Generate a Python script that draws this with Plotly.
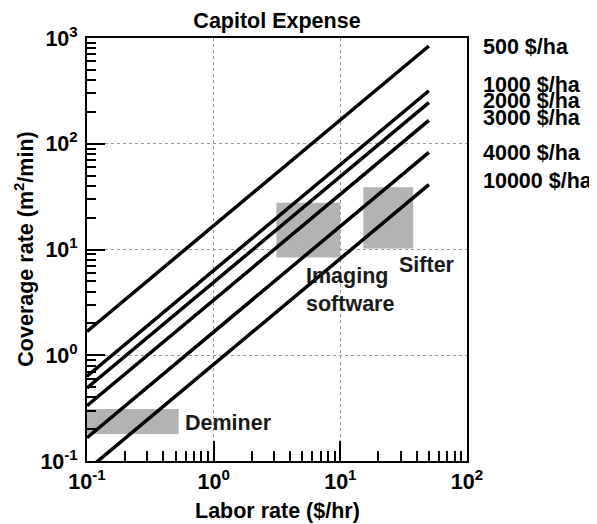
import plotly.graph_objects as go
import math

# ---- data ----
cost_labels = ["500 $/ha", "1000 $/ha", "2000 $/ha", "3000 $/ha", "4000 $/ha", "10000 $/ha"]
# coverage rate (m2/min) per unit labor rate ($/hr)  -> y = k * x
slope_k = [16.8, 6.34, 4.9, 3.33, 1.66, 0.82]
labor_range = [0.1, 50]
label_y = [822, 360, 255, 176, 82, 44]

box_names = ["Deminer", "Imaging<br>software", "Sifter"]
box_x = [[0.1, 0.53], [3.13, 10.0], [15.2, 37.6]]
box_y = [[0.18, 0.31], [8.4, 27.7], [10.2, 38.7]]
box_text_x = [0.57, 5.2, 28.1]
box_text_y = [0.228, 4.1, 7.2]

x_ticks = [0.1, 1, 10, 100]
x_ticktext = ["10<sup>-1</sup>", "10<sup>0</sup>", "10<sup>1</sup>", "10<sup>2</sup>"]
y_ticks = [0.1, 1, 10, 100, 1000]
y_ticktext = ["10<sup>-1</sup>", "10<sup>0</sup>", "10<sup>1</sup>", "10<sup>2</sup>", "10<sup>3</sup>"]

FONT = "Liberation Sans, Arial, sans-serif"
FS = 21.5
fig = go.Figure()

for bx, by in zip(box_x, box_y):
    fig.add_trace(go.Scatter(
        x=[bx[0], bx[1], bx[1], bx[0], bx[0]],
        y=[by[0], by[0], by[1], by[1], by[0]],
        fill="toself", fillcolor="#b3b3b3", line=dict(width=0),
        mode="lines", hoverinfo="skip", showlegend=False))

for k, name in zip(slope_k, cost_labels):
    fig.add_trace(go.Scatter(
        x=labor_range, y=[k * v for v in labor_range], mode="lines",
        line=dict(color="black", width=3.5), name=name, showlegend=False))

bold = dict(family=FONT, size=FS, color="black", weight="bold")
annotations = []
for name, ly in zip(cost_labels, label_y):
    annotations.append(dict(text=name, x=1.037, xref="paper", y=math.log10(ly), yref="y",
                            xanchor="left", yanchor="middle", showarrow=False, font=bold))
for name, tx, ty in zip(box_names, box_text_x, box_text_y):
    annotations.append(dict(text=name, x=math.log10(tx), y=math.log10(ty), xref="x", yref="y",
                            xanchor="left", yanchor="middle", align="left", showarrow=False,
                            font=dict(family=FONT, size=FS, color="#1a1a1a", weight="bold")))
annotations.append(dict(text="Labor rate ($/hr)", x=0.5, y=-0.118, xref="paper", yref="paper",
                        xanchor="center", yanchor="middle", showarrow=False, font=bold))
annotations.append(dict(text="Coverage rate (m<sup>2</sup>/min)", x=-0.168, y=0.5,
                        xref="paper", yref="paper", textangle=-90,
                        xanchor="center", yanchor="middle", showarrow=False, font=bold))

minor_x = [m * 10 ** e for e in range(-1, 2) for m in range(2, 10)]
minor_y = [m * 10 ** e for e in range(-1, 3) for m in range(2, 10)]

fig.update_layout(
    width=597, height=524,
    margin=dict(l=79, r=138, t=30, b=71),
    paper_bgcolor="white", plot_bgcolor="white",
    title=dict(text="Capitol Expense", x=269 / 597, xanchor="center",
               y=1 - 12 / 524, yanchor="middle", yref="container", font=bold),
    annotations=annotations,
    xaxis=dict(type="log", range=[-1, 2], tickvals=x_ticks, ticktext=x_ticktext,
               ticks="inside", ticklen=20, tickwidth=1.5, tickcolor="black",
               showline=True, linecolor="black", linewidth=2, mirror=True,
               showgrid=True, gridcolor="#999999", griddash="dot", gridwidth=1,
               zeroline=False,
               minor=dict(tickvals=minor_x, ticks="inside", ticklen=10, tickcolor="black",
                          tickwidth=1.5, showgrid=False),
               tickfont=bold),
    yaxis=dict(type="log", range=[-1, 3], tickvals=y_ticks, ticktext=y_ticktext,
               ticks="inside", ticklen=18, tickwidth=1.5, tickcolor="black",
               showline=True, linecolor="black", linewidth=2, mirror=True,
               showgrid=True, gridcolor="#999999", griddash="dot", gridwidth=1,
               zeroline=False, ticklabelstandoff=3,
               minor=dict(tickvals=minor_y, ticks="inside", ticklen=9, tickcolor="black",
                          tickwidth=1.5, showgrid=False),
               tickfont=bold),
)

fig.write_html("out.html")
